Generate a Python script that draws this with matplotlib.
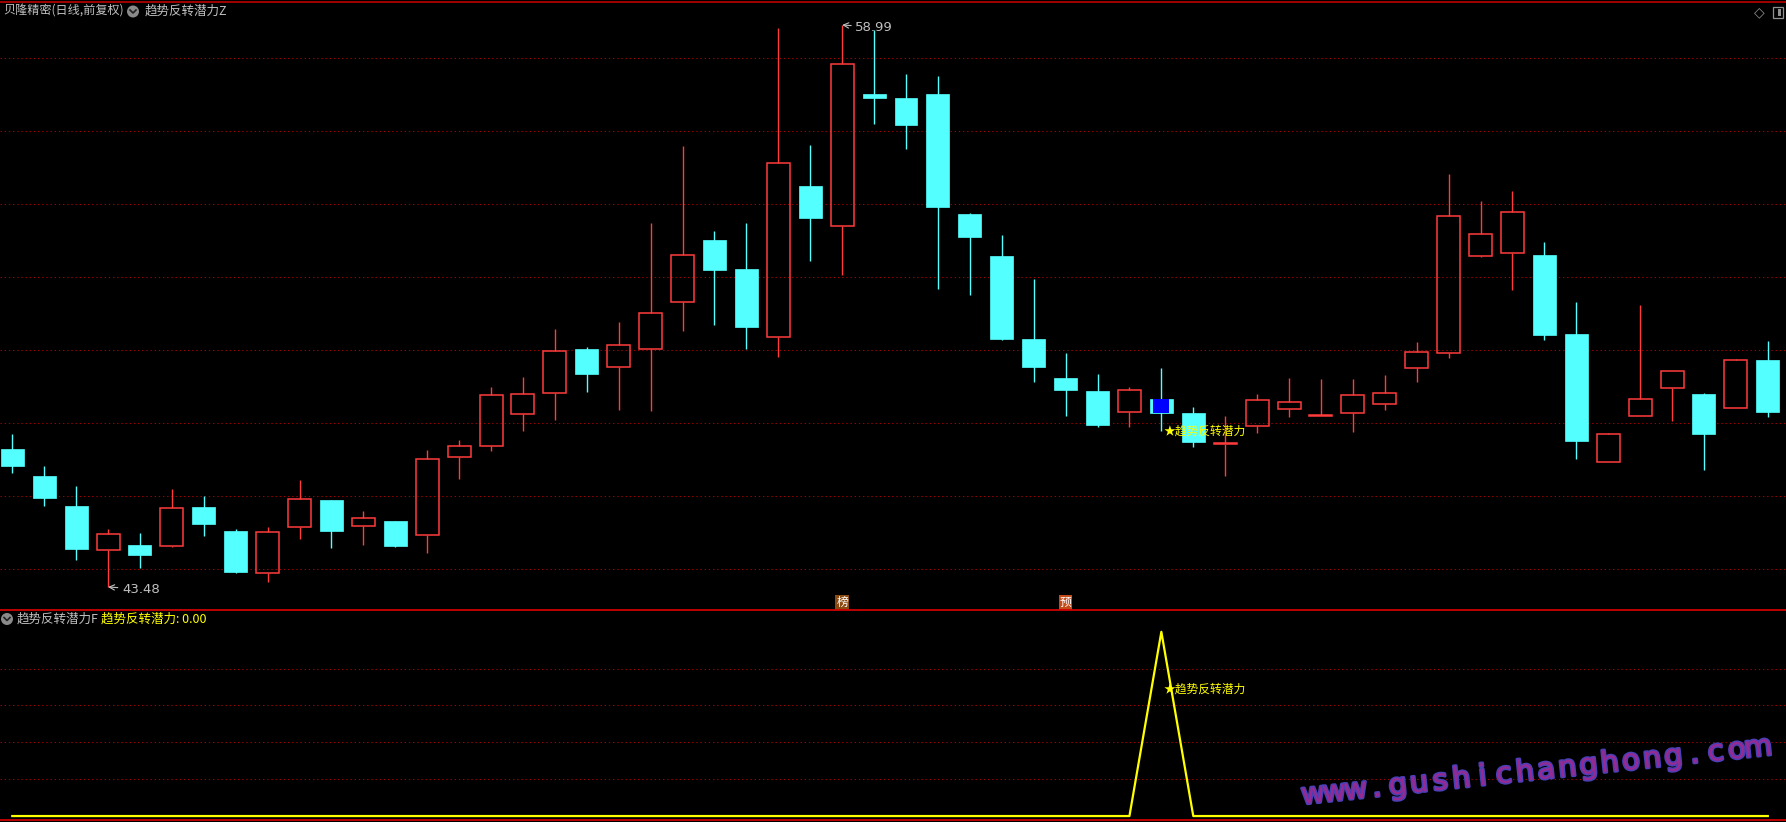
import numpy as np
import matplotlib.pyplot as plt
from matplotlib.patches import Rectangle, Circle
from matplotlib import patheffects
from matplotlib.transforms import IdentityTransform, blended_transform_factory

plt.rcParams['font.family'] = ['Noto Sans CJK SC', 'DejaVu Sans']

# 日K线 (开 高 低 收)
kai = [47.29, 46.54, 45.72, 44.49, 44.64, 44.60, 45.69, 45.03, 43.86, 45.13,
       45.88, 45.16, 45.30, 44.91, 47.06, 47.36, 48.25, 48.83, 50.05, 49.54,
       50.04, 51.34, 53.06, 52.26, 50.37, 54.55, 53.43, 57.09, 56.98, 57.09,
       53.77, 52.62, 50.32, 49.25, 48.90, 48.32, 48.67, 48.28, 47.42, 47.91,
       48.40, 48.21, 48.27, 48.52, 49.52, 49.94, 52.61, 52.70, 52.64, 50.47,
       46.92, 48.21, 48.96, 48.80, 48.43, 49.74]
gao = [47.70, 46.82, 46.27, 45.08, 44.97, 46.18, 45.99, 45.08, 45.14, 46.43,
       45.88, 45.58, 45.30, 47.26, 47.54, 49.00, 49.28, 50.60, 50.10, 50.79,
       53.53, 55.65, 53.30, 53.53, 58.91, 55.68, 58.99, 58.85, 57.64, 57.58,
       53.79, 53.19, 51.98, 49.94, 49.37, 49.00, 49.52, 48.45, 48.20, 48.81,
       49.25, 49.22, 49.22, 49.34, 50.25, 54.87, 54.12, 54.40, 52.99, 51.35,
       47.74, 51.26, 49.43, 48.83, 49.78, 50.28]
di = [46.63, 45.72, 44.23, 43.48, 44.01, 44.58, 44.90, 43.87, 43.63, 44.81,
      44.56, 44.65, 44.59, 44.43, 46.47, 47.24, 47.79, 48.10, 48.87, 48.37,
      48.35, 50.55, 50.72, 50.06, 49.84, 52.49, 52.10, 56.27, 55.58, 51.71,
      51.55, 50.30, 49.15, 48.21, 47.90, 47.90, 47.79, 47.35, 46.54, 47.74,
      48.18, 48.20, 47.77, 48.37, 49.15, 49.81, 52.60, 51.67, 50.31, 47.01,
      46.92, 48.21, 48.05, 46.70, 48.43, 48.17]
shou = [46.83, 45.94, 44.54, 44.93, 44.37, 45.65, 45.23, 43.90, 44.99, 45.90,
        45.03, 45.38, 44.62, 47.00, 47.36, 48.77, 48.80, 49.99, 49.37, 50.15,
        51.03, 52.63, 52.24, 50.66, 55.17, 53.67, 57.91, 56.98, 56.24, 53.98,
        53.15, 50.33, 49.56, 48.93, 47.95, 48.91, 48.27, 47.49, 47.46, 48.63,
        48.58, 48.24, 48.78, 48.83, 49.97, 53.71, 53.21, 53.83, 50.44, 47.52,
        47.70, 48.68, 49.43, 47.70, 49.74, 48.30]

# 副图指标 趋势反转潜力
qianli = [0, 0, 0, 0, 0, 0, 0, 0, 0, 0, 0, 0, 0, 0, 0, 0, 0, 0, 0, 0,
          0, 0, 0, 0, 0, 0, 0, 0, 0, 0, 0, 0, 0, 0, 0, 0, 1, 0, 0, 0,
          0, 0, 0, 0, 0, 0, 0, 0, 0, 0, 0, 0, 0, 0, 0, 0]

biaoji_idx = [26, 33]
biaoji_txt = ['榜', '预']
biaoji_bg = ['#8a4a12', '#c44a18']

grid_main = [58.07, 56.06, 54.04, 52.03, 50.01, 48.00, 45.99, 43.97]
grid_sub = [0.2, 0.4, 0.6, 0.8]

W, H = 1786, 822
RED = '#ff3b3b'
CYAN = '#54ffff'
GRAU = '#c0c0c0'

fig = plt.figure(figsize=(W / 100, H / 100), dpi=100, facecolor='black')
ax = fig.add_axes([0, (H - 610) / H, 1, 609 / H])
ax2 = fig.add_axes([0, 2 / H, 1, 208 / H])

for a in (ax, ax2):
    a.set_facecolor('black')
    a.set_xlim(-0.385, 55.57)
    a.set_xticks([])
    a.set_yticks([])
    for s in a.spines.values():
        s.set_visible(False)

ax.set_ylim(42.845, 59.652)
ax2.set_ylim(-0.0215, 1.1075)

for g in grid_main:
    ax.axhline(g, color='#a00000', lw=0.75, ls=(0, (1.3, 2.7)), zorder=0)
for g in grid_sub:
    ax2.axhline(g, color='#a00000', lw=0.75, ls=(0, (1.3, 2.7)), zorder=0)

# K线
w = 0.72
xinhao = int(np.argmax(qianli))
for i in range(len(kai)):
    o, h, l, c = kai[i], gao[i], di[i], shou[i]
    oben, unten = max(o, c), min(o, c)
    if c >= o:
        ax.vlines(i, oben, h, color=RED, lw=1.0)
        ax.vlines(i, l, unten, color=RED, lw=1.0)
        ax.add_patch(Rectangle((i - w / 2, unten), w, max(oben - unten, 0.03),
                               fill=False, edgecolor=RED, lw=1.1))
    else:
        ax.vlines(i, l, h, color=CYAN, lw=1.0)
        ax.add_patch(Rectangle((i - w / 2, unten), w, oben - unten,
                               facecolor=CYAN, edgecolor=CYAN, lw=0.5))
        if i == xinhao:
            ax.add_patch(Rectangle((i - 0.255, unten), 0.51, oben - unten,
                                   facecolor='#0000ff', edgecolor='none', zorder=3))

# 最高 最低 标注
hi = int(np.argmax(gao))
lo = int(np.argmin(di))
ax.annotate(f'{gao[hi]:.2f}', xy=(hi, gao[hi]), xytext=(9.5, -1.5), textcoords='offset points',
            color=GRAU, fontsize=9.5, family='DejaVu Sans', va='center', ha='left',
            arrowprops=dict(arrowstyle='->', color=GRAU, lw=0.8, shrinkA=1, shrinkB=0))
ax.annotate(f'{di[lo]:.2f}', xy=(lo, di[lo]), xytext=(10, -1.5), textcoords='offset points',
            color=GRAU, fontsize=9.5, family='DejaVu Sans', va='center', ha='left',
            arrowprops=dict(arrowstyle='->', color=GRAU, lw=0.8, shrinkA=1, shrinkB=0))

ax.text(xinhao + 0.08, di[xinhao], '★趋势反转潜力', color='#ffff00', fontsize=8.5,
        va='center', ha='left', zorder=5)

trans = blended_transform_factory(ax.transData, ax.transAxes)
for k, t, bg in zip(biaoji_idx, biaoji_txt, biaoji_bg):
    ax.text(k, 0.012, t, transform=trans, color='white', fontsize=8.5, ha='center',
            va='center', bbox=dict(boxstyle='square,pad=0.08', facecolor=bg, edgecolor='none'))

# 副图
x = np.arange(len(qianli))
ax2.plot(x, qianli, color='#ffff00', lw=1.6)
ax2.text(xinhao + 0.08, 0.69, '★趋势反转潜力', color='#ffff00', fontsize=8.5,
         va='center', ha='left')

# 边框
ID = IdentityTransform()
def py(y):
    return H - y

for yy, col in [(1.5, '#b00000'), (610, '#d00000'), (820, '#d00000')]:
    fig.add_artist(plt.Line2D([0, W], [py(yy), py(yy)], color=col, lw=1.3, transform=ID))

# 标题
fig.text(3 / W, 1 - 11 / H, '贝隆精密(日线,前复权)', color=GRAU, fontsize=8.7, va='center', ha='left')
fig.text(145 / W, 1 - 11 / H, '趋势反转潜力Z', color=GRAU, fontsize=9, va='center', ha='left')
fig.text(17 / W, 1 - 619 / H, '趋势反转潜力F', color=GRAU, fontsize=9, va='center', ha='left')
fig.text(101 / W, 1 - 619 / H, f'趋势反转潜力: {qianli[-1]:.2f}', color='#ffff00', fontsize=9,
         va='center', ha='left')
for cx, cy in [(133, 11.5), (7, 619)]:
    fig.add_artist(Circle((cx, py(cy)), 6, facecolor='#8a8a8a', edgecolor='none', transform=ID))
    fig.add_artist(plt.Line2D([cx - 3, cx, cx + 3], [py(cy - 1.5), py(cy + 1.5), py(cy - 1.5)],
                              color='#202020', lw=1.2, transform=ID))

fig.text(1759 / W, 1 - 12 / H, '◇', color='#909090', fontsize=10, family='DejaVu Sans',
         va='center', ha='center')
fig.add_artist(Rectangle((1773, py(18)), 10, 11, fill=False, edgecolor='#909090', lw=0.9, transform=ID))
fig.add_artist(Rectangle((1778, py(16)), 3, 7, facecolor='#909090', edgecolor='none', transform=ID))

# 水印
wz = 'www.gushichanghong.com'
x0, y0, x1, y1 = 1314, 803, 1759, 756
for j, ch in enumerate(wz):
    xx = x0 + (x1 - x0) * j / (len(wz) - 1)
    yy = y0 + (y1 - y0) * j / (len(wz) - 1)
    fig.text(xx / W, 1 - yy / H, ch, color='#962a92', fontsize=21, family='DejaVu Sans',
             ha='center', va='baseline', rotation=6, rotation_mode='anchor',
             path_effects=[patheffects.withStroke(linewidth=2.2, foreground='#4a3fb5')])

fig.savefig('out.png', dpi=100, facecolor='black')
